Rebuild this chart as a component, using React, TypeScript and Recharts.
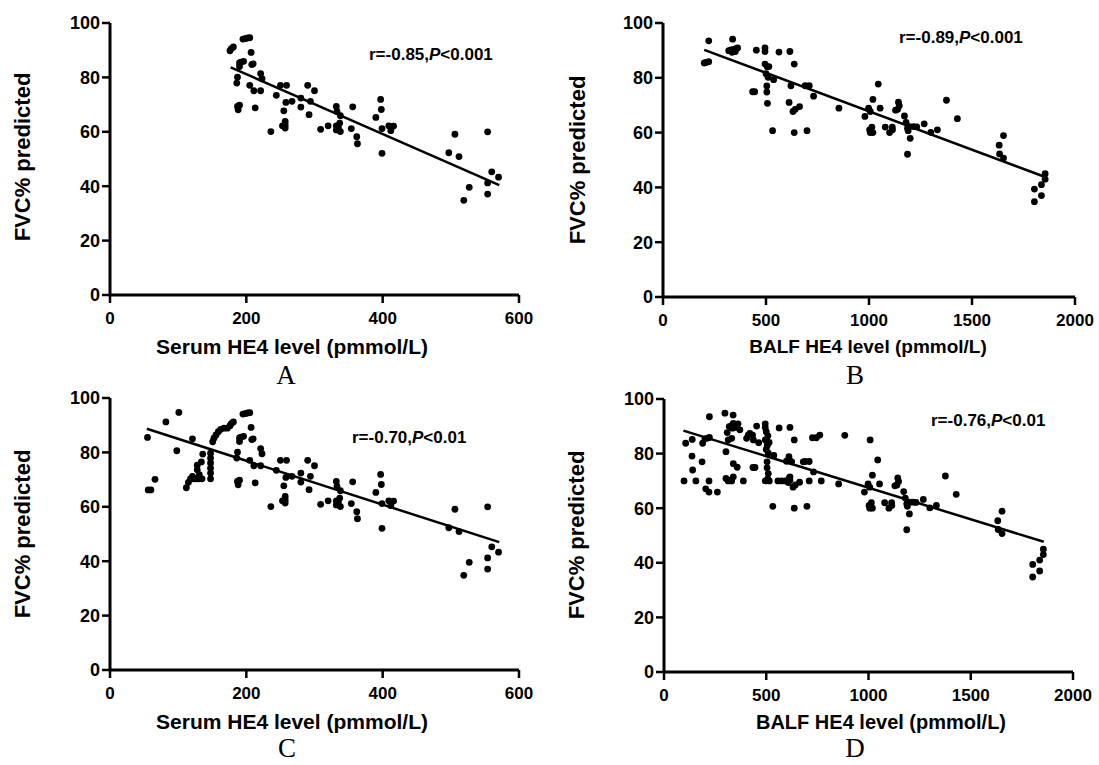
import React from 'react';
import { ScatterChart, Scatter, XAxis, YAxis, ReferenceLine } from 'recharts';

// ---- data ----
const serumA: [number, number][] = [
  [176, 89.8], [178, 90.6], [181, 91.2], [195, 94.1], [199, 94.3], [202, 94.5], [205, 94.6], [207, 89.2],
  [190, 85.3], [192, 85.6], [196, 85.9], [190, 84.0], [208, 84.7], [210, 85.0], [221, 81.4], [223, 79.5],
  [187, 80.1], [186, 77.9], [205, 77.1], [211, 75.1], [221, 75.1], [187, 69.3], [190, 69.8], [188, 68.1],
  [213, 68.8], [236, 60.1], [244, 73.4], [250, 77.1], [259, 77.1], [258, 70.8], [255, 67.7], [257, 63.8],
  [257, 62.5], [257, 61.4], [253, 62.2], [267, 71.2], [280, 72.4], [280, 69.1], [290, 77.1], [294, 71.2],
  [292, 66.3], [300, 75.1], [309, 60.9], [320, 62.2], [332, 69.3], [333, 67.5], [338, 65.9], [332, 62.2],
  [337, 63.2], [332, 60.7], [338, 60.1], [335, 61.6], [354, 61.2], [356, 69.2], [362, 58.2], [363, 55.6],
  [390, 65.3], [397, 71.9], [398, 68.2], [399, 61.2], [399, 52.1], [409, 62.2], [412, 60.4], [416, 62.1],
  [497, 52.3], [506, 59.1], [512, 50.9], [527, 39.6], [519, 34.8], [554, 60.0], [554, 41.2], [554, 37.1],
  [560, 45.3], [570, 43.3],
];

const serumExtraC: [number, number][] = [
  [55, 85.5], [56, 66.2], [60, 66.2], [66, 70.1], [82, 91.2], [101, 94.7], [98, 80.6], [112, 67.0],
  [115, 69.0], [118, 70.3], [122, 70.3], [126, 70.3], [130, 70.3], [135, 70.3], [121, 85.0], [121, 71.2],
  [128, 73.6], [128, 75.3], [131, 71.8], [134, 76.5], [136, 79.4], [147.5, 79.7], [147.5, 77.9],
  [147.5, 76.1], [147.5, 74.2], [147.5, 72.4], [147.5, 70.3], [150.6, 83.9], [152.5, 85.2], [155.5, 86.4],
  [158.9, 87.6], [162.4, 88.5], [167.2, 88.9], [172.1, 88.9],
];

const balfB: [number, number][] = [
  [200, 85.4], [210, 85.6], [222, 85.9], [222, 93.5], [338, 94.1], [319, 89.9], [330, 90.2], [343, 90.4],
  [354, 90.6], [362, 90.9], [335, 89.3], [351, 89.6], [453, 90.1], [495, 90.9], [495, 89.6], [563, 89.4],
  [616, 89.6], [495, 85.0], [506, 84.0], [514, 84.1], [637, 85.0], [500, 81.5], [510, 80.2], [537, 79.3],
  [435, 74.9], [445, 74.9], [504, 77.0], [504, 74.8], [507, 70.7], [532, 60.7], [621, 77.1], [612, 71.0],
  [631, 67.7], [642, 68.5], [663, 69.5], [637, 60.0], [690, 77.1], [710, 77.1], [731, 73.3], [699, 60.7],
  [854, 68.9], [980, 65.9], [998, 68.9], [1006, 67.7], [1019, 72.1], [1045, 77.7], [1054, 68.9],
  [1003, 61.0], [1006, 60.0], [1019, 60.0], [1014, 62.0], [1079, 62.0], [1100, 60.0], [1113, 62.0],
  [1114, 61.0], [1129, 68.2], [1139, 68.5], [1143, 71.1], [1147, 69.8], [1172, 66.1], [1180, 63.7],
  [1187, 61.6], [1197, 62.2], [1190, 60.7], [1187, 52.1], [1200, 57.9], [1216, 62.2], [1232, 62.1],
  [1268, 63.2], [1300, 60.1], [1332, 61.0], [1376, 71.8], [1429, 65.1], [1632, 55.4], [1653, 58.9],
  [1634, 52.2], [1653, 50.7], [1855, 45.0], [1855, 43.0], [1837, 41.0], [1803, 39.4], [1837, 37.0],
  [1803, 34.8],
];

const balfExtraD: [number, number][] = [
  [98, 70.0], [106, 83.8], [138, 85.2], [137, 79.1], [140, 74.0], [156, 70.0], [186, 77.0], [189, 83.8],
  [204, 67.1], [220, 70.0], [220, 65.9], [261, 65.9], [298, 94.8], [303, 80.7], [303, 70.9], [314, 70.0],
  [322, 70.3], [309, 87.7], [339, 91.1], [371, 88.7], [314, 85.0], [331, 85.6], [339, 76.3], [358, 75.0],
  [339, 71.5], [331, 70.0], [388, 70.0], [404, 85.6], [412, 86.8], [420, 87.4], [433, 86.8], [437, 85.0],
  [463, 84.0], [510, 72.7], [495, 70.0], [515, 70.0], [557, 70.0], [575, 70.0], [593, 70.0], [608, 69.4],
  [616, 70.3], [599, 77.2], [611, 78.9], [624, 77.0], [616, 71.5], [681, 77.0], [710, 70.0], [726, 85.8],
  [745, 85.8], [762, 86.8], [769, 70.0], [884, 86.7], [1008, 85.0], [500, 88.0], [508, 86.5], [505, 83.0],
];

// regression line endpoints
const fitA: [number, number][] = [[177, 83.7], [571, 40.4]];
const fitB: [number, number][] = [[200, 90.2], [1855, 43.8]];
const fitC: [number, number][] = [[54, 88.7], [571, 47.0]];
const fitD: [number, number][] = [[95, 88.4], [1857, 47.7]];

const yTicks = [0, 20, 40, 60, 80, 100];
const serumTicks = [0, 200, 400, 600];
const balfTicks = [0, 500, 1000, 1500, 2000];

const statA = { r: 'r=-0.85,', p: 'P', rest: '<0.001' };
const statB = { r: 'r=-0.89,', p: 'P', rest: '<0.001' };
const statC = { r: 'r=-0.70,', p: 'P', rest: '<0.01' };
const statD = { r: 'r=-0.76,', p: 'P', rest: '<0.01' };

const yTitle = 'FVC% predicted';
const serumTitle = 'Serum HE4 level (pmmol/L)';
const balfTitle = 'BALF HE4 level (pmmol/L)';

const toPts = (a: [number, number][]) => a.map(([x, y]) => ({ x, y }));

const FONT = 'Arial, "Liberation Sans", Helvetica, sans-serif';
const CW = 549;
const CH = 380;

const Dot = (props: any) => {
  const { cx, cy } = props;
  if (cx == null || cy == null) return null;
  return <circle cx={cx} cy={cy} r={3.4} fill="#000" />;
};

type PanelProps = {
  left: number;
  top: number;
  plotLeft: number;
  plotTop: number;
  plotW: number;
  plotH: number;
  xMax: number;
  xTicks: number[];
  points: { x: number; y: number }[];
  fit: [number, number][];
};

function Panel(p: PanelProps) {
  const yAxisW = 60;
  const xAxisH = 30;
  const margin = {
    top: p.plotTop,
    left: p.plotLeft - yAxisW,
    right: CW - p.plotLeft - p.plotW,
    bottom: CH - p.plotTop - p.plotH - xAxisH,
  };
  return (
    <div style={{ position: 'absolute', left: p.left, top: p.top, width: CW, height: CH }}>
      <ScatterChart width={CW} height={CH} margin={margin}>
        <XAxis
          type="number"
          dataKey="x"
          domain={[0, p.xMax]}
          ticks={p.xTicks}
          height={xAxisH}
          allowDataOverflow
          axisLine={{ stroke: '#000', strokeWidth: 3 }}
          tickLine={{ stroke: '#000', strokeWidth: 2.5 }}
          tickSize={8}
          tickMargin={9}
          tick={{ fill: '#000', fontSize: 17, fontWeight: 'bold', fontFamily: FONT }}
          interval={0}
        />
        <YAxis
          type="number"
          dataKey="y"
          domain={[0, 100]}
          ticks={yTicks}
          width={yAxisW}
          allowDataOverflow
          axisLine={{ stroke: '#000', strokeWidth: 3 }}
          tickLine={{ stroke: '#000', strokeWidth: 2.5 }}
          tickSize={8}
          tickMargin={2}
          tick={{ fill: '#000', fontSize: 18, fontWeight: 'bold', fontFamily: FONT }}
          interval={0}
        />
        <Scatter data={p.points} shape={Dot} isAnimationActive={false} />
        <ReferenceLine
          segment={[
            { x: p.fit[0][0], y: p.fit[0][1] },
            { x: p.fit[1][0], y: p.fit[1][1] },
          ]}
          stroke="#000"
          strokeWidth={2.5}
          ifOverflow="visible"
        />
      </ScatterChart>
    </div>
  );
}

const centered = (cx: number, cy: number, extra: React.CSSProperties = {}): React.CSSProperties => ({
  position: 'absolute',
  left: cx,
  top: cy,
  transform: 'translate(-50%, -50%)',
  whiteSpace: 'nowrap',
  lineHeight: 1,
  color: '#000',
  fontFamily: FONT,
  fontWeight: 'bold',
  ...extra,
});

const YTitle = ({ cx, cy }: { cx: number; cy: number }) => (
  <div style={centered(cx, cy, { transform: 'translate(-50%, -50%) rotate(-90deg)', fontSize: 22 })}>{yTitle}</div>
);

const Stat = ({ left, top, s }: { left: number; top: number; s: { r: string; p: string; rest: string } }) => (
  <div
    style={{
      position: 'absolute',
      left,
      top,
      lineHeight: 1,
      fontSize: 17,
      fontWeight: 'bold',
      fontFamily: FONT,
      whiteSpace: 'nowrap',
      color: '#000',
    }}
  >
    {s.r}
    <i>{s.p}</i>
    {s.rest}
  </div>
);

const Letter = ({ cx, cy, t }: { cx: number; cy: number; t: string }) => (
  <div
    style={centered(cx, cy, {
      fontFamily: '"Liberation Serif", "Times New Roman", serif',
      fontWeight: 'normal',
      fontSize: 27,
    })}
  >
    {t}
  </div>
);

export default function App() {
  const ptsA = toPts(serumA);
  const ptsB = toPts(balfB);
  const ptsC = toPts([...serumA, ...serumExtraC]);
  const ptsD = toPts([...balfB, ...balfExtraD]);
  return (
    <div style={{ position: 'absolute', left: 0, top: 0, width: 1099, height: 765, background: '#fff', overflow: 'hidden' }}>
      <Panel left={0} top={0} plotLeft={110} plotTop={23} plotW={409} plotH={272} xMax={600} xTicks={serumTicks} points={ptsA} fit={fitA} />
      <Panel left={550} top={0} plotLeft={113} plotTop={23} plotW={412} plotH={274} xMax={2000} xTicks={balfTicks} points={ptsB} fit={fitB} />
      <Panel left={0} top={375} plotLeft={110} plotTop={23} plotW={409} plotH={272} xMax={600} xTicks={serumTicks} points={ptsC} fit={fitC} />
      <Panel left={550} top={375} plotLeft={114} plotTop={24} plotW={409} plotH={273} xMax={2000} xTicks={balfTicks} points={ptsD} fit={fitD} />

      <YTitle cx={23} cy={157} />
      <YTitle cx={578} cy={160} />
      <YTitle cx={23} cy={534} />
      <YTitle cx={577} cy={535} />

      <div style={centered(292, 346, { fontSize: 21 })}>{serumTitle}</div>
      <div style={centered(868, 346, { fontSize: 19 })}>{balfTitle}</div>
      <div style={centered(292, 721, { fontSize: 21 })}>{serumTitle}</div>
      <div style={centered(881, 722, { fontSize: 20 })}>{balfTitle}</div>

      <Stat left={369} top={46} s={statA} />
      <Stat left={899} top={29} s={statB} />
      <Stat left={352} top={429} s={statC} />
      <Stat left={931} top={412} s={statD} />

      <Letter cx={286} cy={375} t="A" />
      <Letter cx={855} cy={375} t="B" />
      <Letter cx={287} cy={748} t="C" />
      <Letter cx={855} cy={748} t="D" />
    </div>
  );
}
